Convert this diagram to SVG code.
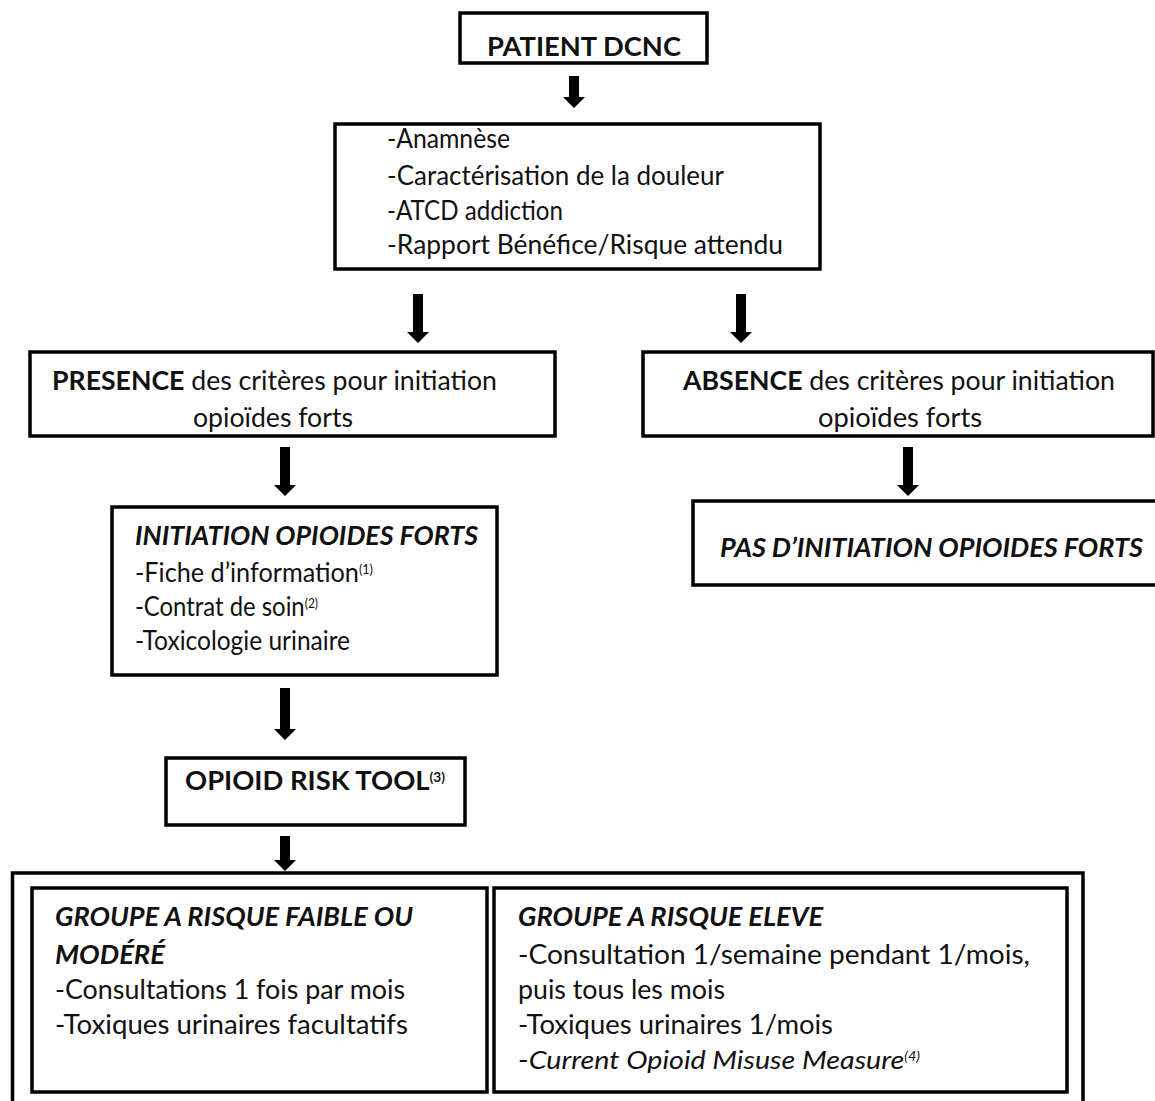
<svg xmlns="http://www.w3.org/2000/svg" width="1155" height="1101" viewBox="0 0 1155 1101">
<defs>
<style>
.box{fill:#fff;stroke:#000;stroke-width:3.5}
.t{font-family:"Lato","Liberation Sans",sans-serif;font-size:26px;fill:#111}
.b{font-weight:bold}
.i{font-style:italic}
.sup{font-size:13px}
</style>
</defs>
<rect width="1155" height="1101" fill="#fff"/>
<g id="connectors" fill="#000">
<path d="M569,76 H579 V97 H585 L574,108 L563,97 H569 Z"/>
<path d="M413,294 H423 V332 H429 L418,343 L407,332 H413 Z"/>
<path d="M736,294 H746 V332 H752 L741,343 L730,332 H736 Z"/>
<path d="M280,447 H290 V485 H296 L285,496 L274,485 H280 Z"/>
<path d="M903,447 H913 V485 H919 L908,496 L897,485 H903 Z"/>
<path d="M280,688 H290 V729 H296 L285,740 L274,729 H280 Z"/>
<path d="M280,836 H290 V860 H296 L285,871 L274,860 H280 Z"/>
</g>
<g id="patient">
<rect class="box" x="460" y="13" width="247" height="50"/>
<text class="t b" x="487" y="56" textLength="194" lengthAdjust="spacingAndGlyphs">PATIENT DCNC</text>
</g>
<g id="evaluation">
<rect class="box" x="335" y="124" width="485" height="145"/>
<text class="t" x="387" y="148" textLength="123" lengthAdjust="spacingAndGlyphs">-Anamnèse</text>
<text class="t" x="387" y="185" textLength="337" lengthAdjust="spacingAndGlyphs">-Caractérisation de la douleur</text>
<text class="t" x="387" y="220" textLength="176" lengthAdjust="spacingAndGlyphs">-ATCD addiction</text>
<text class="t" x="387" y="254" textLength="396" lengthAdjust="spacingAndGlyphs">-Rapport Bénéfice/Risque attendu</text>
</g>
<g id="presence">
<rect class="box" x="30" y="352" width="525" height="84"/>
<text class="t" x="52" y="390" textLength="445" lengthAdjust="spacingAndGlyphs"><tspan class="b">PRESENCE</tspan> des critères pour  initiation</text>
<text class="t" x="193" y="427" textLength="160" lengthAdjust="spacingAndGlyphs">opioïdes forts</text>
</g>
<g id="absence">
<rect class="box" x="643" y="352" width="510" height="84"/>
<text class="t" x="683" y="390" textLength="432" lengthAdjust="spacingAndGlyphs"><tspan class="b">ABSENCE</tspan> des critères pour  initiation</text>
<text class="t" x="818" y="427" textLength="164" lengthAdjust="spacingAndGlyphs">opioïdes forts</text>
</g>
<g id="initiation">
<rect class="box" x="112" y="507" width="385" height="168"/>
<text class="t b i" x="135" y="545" textLength="343" lengthAdjust="spacingAndGlyphs">INITIATION OPIOIDES FORTS</text>
<text class="t" x="135" y="582" textLength="238" lengthAdjust="spacingAndGlyphs">-Fiche d’information<tspan class="sup" dy="-8">(1)</tspan></text>
<text class="t" x="135" y="616" textLength="183" lengthAdjust="spacingAndGlyphs">-Contrat de soin<tspan class="sup" dy="-8">(2)</tspan></text>
<text class="t" x="135" y="650" textLength="215" lengthAdjust="spacingAndGlyphs">-Toxicologie urinaire</text>
</g>
<g id="pas-initiation">
<rect class="box" x="693" y="501" width="470" height="84"/>
<text class="t b i" x="720" y="557" textLength="423" lengthAdjust="spacingAndGlyphs">PAS D’INITIATION OPIOIDES FORTS</text>
</g>
<g id="ort">
<rect class="box" x="166" y="758" width="299" height="67"/>
<text class="t b" x="185" y="790" textLength="260" lengthAdjust="spacingAndGlyphs">OPIOID RISK TOOL<tspan class="sup" dy="-8">(3)</tspan></text>
</g>
<g id="groupes">
<rect class="box" x="12.5" y="873" width="1070.5" height="250" stroke-width="4"/>
<g id="risque-faible">
<rect class="box" x="32" y="888" width="455" height="204" stroke-width="4"/>
<text class="t b i" x="55" y="926" textLength="358" lengthAdjust="spacingAndGlyphs">GROUPE A RISQUE FAIBLE OU</text>
<text class="t b i" x="55" y="964" textLength="110" lengthAdjust="spacingAndGlyphs">MODÉRÉ</text>
<text class="t" x="55" y="999" textLength="350" lengthAdjust="spacingAndGlyphs">-Consultations 1 fois par mois</text>
<text class="t" x="55" y="1034" textLength="353" lengthAdjust="spacingAndGlyphs">-Toxiques urinaires facultatifs</text>
</g>
<g id="risque-eleve">
<rect class="box" x="494" y="888" width="573" height="204" stroke-width="4"/>
<text class="t b i" x="518" y="926" textLength="305" lengthAdjust="spacingAndGlyphs">GROUPE A RISQUE ELEVE</text>
<text class="t" x="518" y="964" textLength="512" lengthAdjust="spacingAndGlyphs">-Consultation 1/semaine pendant 1/mois,</text>
<text class="t" x="518" y="999" textLength="207" lengthAdjust="spacingAndGlyphs">puis tous les mois</text>
<text class="t" x="518" y="1034" textLength="315" lengthAdjust="spacingAndGlyphs">-Toxiques urinaires 1/mois</text>
<text class="t" x="518" y="1069" textLength="402" lengthAdjust="spacingAndGlyphs">-<tspan class="i">Current Opioid Misuse Measure</tspan><tspan class="i sup" dy="-8">(4)</tspan></text>
</g>
</g>
</svg>
